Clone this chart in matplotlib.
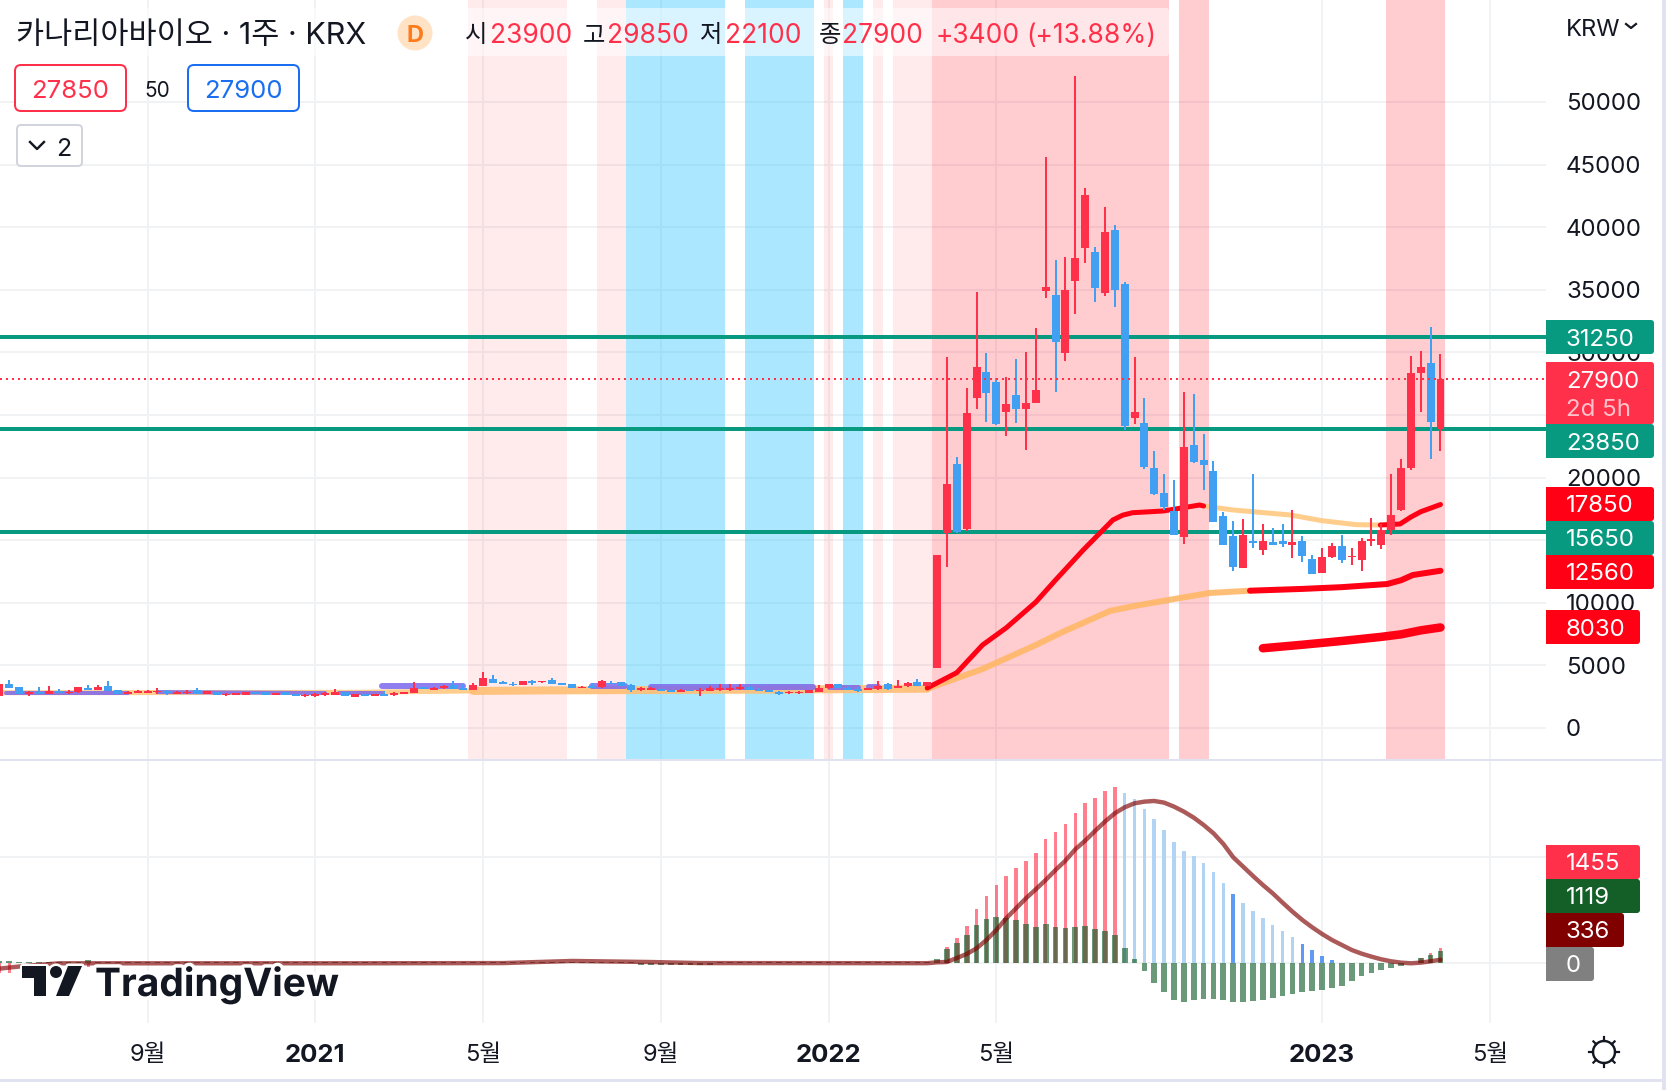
#!/usr/bin/env python3

import numpy as np
import matplotlib
matplotlib.use("Agg")
import matplotlib.pyplot as plt
import matplotlib.patheffects as pe
from matplotlib.patches import Circle, FancyBboxPatch, Polygon, Rectangle

plt.rcParams['font.family'] = ['Inter', 'Noto Sans CJK KR', 'DejaVu Sans']

# Weekly candles, week 0 is the listing jump week
weeks = list(range(-96, 51))

opens = [
    2553, 3484, 3244, 2712, 2872, 2712, 2925, 2766, 2872, 3218,
    3032, 3324, 3005, 2712, 2792, 2819, 2845, 2925, 2739, 2792,
    3058, 2712, 2872, 2606, 2659, 2633, 2899, 2872, 2633, 2845,
    2739, 2526, 2553, 2633, 2633, 2872, 2446, 2739, 2553, 2739,
    2633, 2712, 2819, 3271, 3058, 3165, 3457, 3191, 3005, 3377,
    3936,
    3670, 3537, 3431, 3750, 3670, 3830, 3564, 3484, 3191, 3324,
    3244, 3617, 3697, 3431, 3032, 3058, 3111, 3032, 2872, 3058,
    2952, 2978, 3032, 3032, 3111, 3244, 3058, 3005, 2872, 2766,
    2766, 2819, 2872, 3191, 3537, 3191, 3085, 3032, 3111, 3484,
    3218, 3351, 3697, 3324,
    4792,
    15580, 21120, 15930, 26380, 28460, 27660, 25270, 26620, 25500, 25980,
    34920, 34600, 29970, 35720, 38350, 38030, 34760, 39790, 35480, 24790,
    24390, 20800, 18800, 17370, 15290, 22630, 21410, 20530, 16940, 15340,
    12780, 14910, 14220, 14860, 14940, 14620, 14940, 13500, 12380, 13660,
    14540, 13660, 13420, 14940, 14620, 15820, 17410, 20770, 28360, 29150,
    23900,
]
highs = [
    3484, 3803, 3244, 2952, 3244, 3324, 3085, 3005, 3244, 3404,
    3404, 3723, 3005, 2952, 3005, 3005, 3165, 3005, 2978, 3005,
    3165, 2925, 2872, 2792, 2819, 2845, 2899, 2872, 2792, 2845,
    2739, 2739, 2766, 2899, 3085, 2872, 2686, 2739, 2712, 2925,
    2872, 2899, 3643, 3271, 3298, 3404, 3723, 3537, 3617, 4441,
    4202,
    3723, 3697, 3723, 3830, 3777, 3963, 3564, 3484, 3377, 3564,
    3830, 3723, 3697, 3537, 3244, 3271, 3111, 3032, 3111, 3058,
    3165, 3377, 3510, 3484, 3484, 3351, 3165, 3005, 2925, 2952,
    2952, 3005, 3404, 3537, 3537, 3377, 3298, 3165, 3723, 3564,
    3803, 3670, 3883, 3697,
    13850,
    29650, 21680, 27180, 34840, 29970, 27950, 28060, 29500, 30050, 31970,
    45610, 37400, 37630, 52080, 43140, 38430, 41620, 40190, 35640, 29650,
    26380, 22150, 20320, 19840, 26860, 26700, 23480, 21330, 17260, 16540,
    16700, 20290, 16300, 15980, 16300, 17410, 15340, 13820, 14380, 14780,
    15420, 14380, 15180, 16780, 16300, 20290, 21490, 29710, 30110, 32030,
    29850,
]
lows = [
    2553, 3191, 2712, 2553, 2712, 2712, 2792, 2686, 2766, 3032,
    3032, 2952, 2712, 2712, 2792, 2792, 2739, 2606, 2739, 2686,
    2712, 2712, 2659, 2526, 2659, 2633, 2739, 2633, 2633, 2633,
    2553, 2446, 2446, 2553, 2633, 2553, 2446, 2526, 2553, 2553,
    2526, 2712, 2766, 3111, 3058, 3085, 3111, 3005, 3005, 3324,
    3564,
    3510, 3351, 3431, 3457, 3590, 3510, 3431, 3191, 3191, 3191,
    3165, 3510, 3324, 2845, 2978, 3005, 2978, 2872, 2845, 2978,
    2553, 2925, 2978, 2978, 3032, 3032, 2952, 2872, 2633, 2712,
    2712, 2819, 2872, 3085, 3218, 3032, 2845, 3032, 3058, 3005,
    3165, 3271, 3351, 3324,
    4792,
    12840, 15580, 15720, 25500, 24470, 24230, 23350, 24390, 22230, 25980,
    34360, 26860, 29340, 33090, 37160, 34040, 34520, 33640, 23830, 24310,
    20720, 18640, 17450, 15450, 14730, 21200, 19010, 16480, 14620, 12540,
    12780, 14380, 13820, 14620, 14460, 13580, 13260, 12300, 12380, 13610,
    13180, 13020, 12540, 14540, 14300, 15420, 17340, 20610, 25240, 21490,
    22100,
]
closes = [
    3484, 3191, 2712, 2872, 2712, 2925, 2792, 2899, 3244, 3032,
    3244, 2952, 2712, 2845, 2925, 2952, 2952, 2792, 2872, 2872,
    2712, 2925, 2659, 2712, 2819, 2845, 2739, 2633, 2792, 2633,
    2553, 2633, 2686, 2792, 2872, 2553, 2686, 2526, 2712, 2553,
    2792, 2899, 3218, 3111, 3218, 3324, 3111, 3005, 3404, 3963,
    3564,
    3537, 3431, 3723, 3617, 3777, 3510, 3431, 3191, 3298, 3191,
    3723, 3510, 3324, 3005, 3165, 3191, 2978, 2872, 3032, 2978,
    3058, 3165, 3165, 3165, 3244, 3032, 2952, 2872, 2712, 2899,
    2899, 3005, 3191, 3537, 3218, 3032, 2978, 3165, 3324, 3085,
    3324, 3590, 3351, 3697,
    13850,
    19520, 15640, 25190, 28860, 26780, 24310, 25900, 25500, 25980, 27020,
    35240, 30850, 35000, 37560, 42580, 35160, 39630, 35000, 24150, 25270,
    20880, 18720, 17680, 15450, 22470, 21280, 21010, 16480, 14620, 12860,
    15420, 14750, 14940, 14620, 14700, 14860, 13740, 12300, 13660, 14540,
    13420, 13770, 14940, 15100, 15820, 17020, 20770, 28360, 28830, 24440,
    27900,
]

# Moving averages, sampled where their colour or slope changes
ma_fast_red_w = [-2, 1, 3.6, 6, 9, 11, 13.8, 16.8, 17.8, 18.8, 21.9, 25.6, 26]
ma_fast_red_v = [3195, 4425, 6630, 8000, 10060, 11820, 14217, 16613, 17000, 17196, 17332, 17812, 17732]
ma_fast_fade_w = [26, 29, 34.8, 38, 41.5, 43.9]
ma_fast_fade_v = [17732, 17412, 17013, 16557, 16238, 16214]
ma_fast_end_w = [43.9, 45.9, 47, 48, 50]
ma_fast_end_v = [16214, 16294, 16850, 17276, 17850]

ma_mid_early_w = [-96, -80, -60, -48]
ma_mid_early_v = [2820, 2830, 2850, 2960]
ma_mid_flat_w = [-48, -40, -20, -2]
ma_mid_flat_v = [2960, 3005, 3060, 3138]
ma_mid_fade_w = [-2, 3.6, 9, 11.7, 16.5, 19, 23.6, 26.6, 30.7]
ma_mid_fade_v = [3138, 4712, 6630, 7668, 9345, 9750, 10383, 10783, 10966]
ma_mid_end_w = [30.7, 36, 40, 44.6, 46, 47.2, 50]
ma_mid_end_v = [10966, 11110, 11250, 11500, 11800, 12220, 12560]

ma_slow_w = [32, 36, 40, 44, 46, 48, 50]
ma_slow_v = [6370, 6650, 6950, 7280, 7480, 7800, 8030]

ma_flat_runs = [
    ([-95.3, -83], [2819, 2819], 4),
    ([-80, -63], [2870, 2790], 4),
    ([-61.6, -57.2], [2819, 2819], 4),
    ([-57.2, -49], [3351, 3351], 6),
    ([-36, -32.6], [3351, 3351], 6),
    ([-30, -13.6], [3300, 3300], 6),
    ([-12, -9], [3271, 3271], 5),
    ([-8, -7], [3324, 3324], 5),
]

# Key price levels and the last close
level_values = [31250, 23850, 15650]
last_close = 27900

# Shaded regimes: (first week edge, last week edge)
light_bands = [(-48.5, -38.5), (-35.5, -32.5), (-12.5, -11.5), (-7.5, -6.5), (-5.5, -1.5)]
strong_bands = [(-1.5, 22.5), (23.5, 26.5), (44.5, 50.5)]
blue_bands = [(-32.5, -22.5), (-20.5, -13.5), (-10.5, -8.5)]

# Lower pane
osc_up_w = list(range(0, 18))
osc_up_v = [1531, 2374, 3499, 5092, 6310, 7341, 8185, 8935, 9591, 10340,
            11653, 12309, 13058, 14089, 15026, 15495, 16151, 16526]
osc_down_w = list(range(18, 40))
osc_down_v = [15964, 15401, 14464, 13527, 12496, 11371, 10528, 10059, 9403, 8560, 7529,
              6498, 5654, 4905, 4249, 3593, 3030, 2468, 1812, 1250, 687, 312]
osc_down_strong = [29, 36, 37, 38, 39]
osc_tail_w = [48, 49, 50]
osc_tail_v = [500, 960, 1455]
osc_head_w = [-96, -95, -87]
osc_head_v = [-950, -900, -350]

macd_w = list(range(-96, 51))
macd_v = [
    250, 250, 120, 120, 120, 120, 90, 90, 90, 300,
    90, 90, 90, 90, 90, 90, 90, 90, 90, 90,
    90, 90, 90, 90, 90, 90, 90, 90, 90, 90,
    90, 90, 90, 90, 90, 90, 90, 90, 90, 90,
    90, 90, 90, 90, 90, 90, 90, 90, 90, 90,
    90, 90, 90, 130, 130, 130, 130, 130, 130, 130,
    130, 130, 130, 130, 130, -130, -130, -130, -130, -130,
    -130, -130, -130, 90, 90, 90, 90, 90, 90, 90,
    90, 90, 90, 90, 90, 90, 90, 90, 90, 90,
    90, 90, 90, 90, 90, 406,
    1343, 1906, 2655, 3593, 4155, 4342, 4249, 4061, 3686, 3405,
    3686, 3405, 3311, 3405, 3499, 3218, 3030, 2655, 1437, 406,
    -719, -1843, -2687, -3436, -3624, -3436, -3343, -3343, -3436, -3624,
    -3624, -3530, -3436, -3249, -3062, -2874, -2687, -2593, -2499, -2312,
    -2124, -1656, -1187, -906, -625, -437, -250, 40, 500, 781,
    1119,
]

signal_w = [-96, -94, -92, -90, -60, -45, -38, -30, -25, -2, -1, 0, 1, 2, 3, 4, 5, 6, 7, 8, 9, 10,
            11, 12, 13, 14, 15, 16, 17, 18, 19, 20, 21, 22, 23, 24, 25, 26, 27, 28, 29, 30,
            31, 32, 33, 34, 35, 36, 37, 38, 39, 40, 41, 42, 43, 44, 45, 46, 47, 48, 49, 50]
signal_v = [-500, -300, -150, 0, 0, 20, 220, 120, 20, 10, 94, 125, 500, 875, 1406, 2187, 3124, 4217,
            5155, 6092, 6935, 7810, 8747, 9622, 10684, 11496, 12402, 13277, 14058, 14620, 14995,
            15151, 15214, 15058, 14683, 14214, 13652, 12965, 12184, 11184, 9934, 9060, 8185, 7341,
            6560, 5686, 4842, 4061, 3374, 2749, 2187, 1718, 1250, 906, 625, 375, 187, 62, 0, 62,
            187, 336]

# Axis labels, 15000 and 25000 sit behind the value tags
price_ticks = list(range(0, 55000, 5000))
price_labels = ['' if v in (15000, 25000) else str(v) for v in price_ticks]
time_ticks = [-81, -64, -47, -29, -12, 5, 38, 55]
time_labels = ['9월', '2021', '5월', '9월', '2022', '5월', '2023', '5월']
year_labels = ['2021', '2022', '2023']

UP = '#FF304A'
DOWN = '#42A0F2'
PURE_RED = '#FF0015'
LEVEL = '#089981'
INK = '#131722'
GRID = '#F1F2F4'
EDGE = '#E0E3EF'
MID = 'center_baseline'

W, H = 1666, 1090
PX = 72 / 100  # one pixel in points at dpi 100

fig = plt.figure(figsize=(W / 100, H / 100), dpi=100, facecolor='white')


def pane(left, top, right, bottom):
    return fig.add_axes([left / W, 1 - bottom / H, (right - left) / W, (bottom - top) / H])


xlim = (-947 / 9.87, (1546 - 947) / 9.87)

# Price pane
ax = pane(0, 0, 1546, 759)
ax.set_xlim(xlim)
ax.set_ylim((728 - 759) / 0.01252, 728 / 0.01252)
for s in ax.spines.values():
    s.set_visible(False)
ax.set_axisbelow(True)
ax.grid(True, color=GRID, lw=2 * PX)
ax.set_xticks(time_ticks)
ax.set_yticks(price_ticks)
ax.set_yticklabels(price_labels)
ax.yaxis.tick_right()
ax.tick_params(axis='x', length=0, labelbottom=False)
ax.tick_params(axis='y', length=0, pad=20 * PX, labelsize=17.3, labelcolor=INK)
for lab in ax.get_yticklabels():
    lab.set_ha('left')
    lab.set_va(MID)

for a, b in light_bands:
    ax.axvspan(a, b, color='#FF0015', alpha=0.08, lw=0, zorder=1)
for a, b in strong_bands:
    ax.axvspan(a, b, color='#FF0015', alpha=0.2, lw=0, zorder=1)
for a, b in blue_bands:
    ax.axvspan(a, b, color='#00BCFF', alpha=0.33, lw=0, zorder=1)

for v in level_values:
    ax.axhline(v, color=LEVEL, lw=4 * PX, zorder=2)

round_line = dict(solid_capstyle='round', solid_joinstyle='round')
ax.plot(ma_mid_early_w, ma_mid_early_v, color='#FFC880', lw=5 * PX, alpha=0.9, zorder=3, **round_line)
ax.plot(ma_mid_flat_w, ma_mid_flat_v, color='#FFBE73', lw=8 * PX, alpha=0.9, zorder=3, **round_line)
ax.plot(ma_mid_fade_w, ma_mid_fade_v, color='#FFB766', lw=6 * PX, alpha=0.9, zorder=3, **round_line)
ax.plot(ma_fast_fade_w, ma_fast_fade_v, color='#FFC880', lw=5 * PX, alpha=0.9, zorder=3, **round_line)
for xs, ys, w in ma_flat_runs:
    ax.plot(xs, ys, color='#7B68EE', lw=w * PX, alpha=0.85, zorder=3, **round_line)
ax.plot(ma_fast_red_w, ma_fast_red_v, color=PURE_RED, lw=5 * PX, zorder=4, **round_line)
ax.plot(ma_fast_end_w, ma_fast_end_v, color=PURE_RED, lw=5 * PX, zorder=4, **round_line)
ax.plot(ma_mid_end_w, ma_mid_end_v, color=PURE_RED, lw=6 * PX, zorder=4, **round_line)
ax.plot(ma_slow_w, ma_slow_v, color=PURE_RED, lw=8.5 * PX, zorder=4, **round_line)

# Candles, red for a weekly gain
colors = [UP if c >= o else DOWN for o, c in zip(opens, closes)]
ax.vlines(weeks, lows, highs, colors=colors, lw=2 * PX, zorder=5)
bottoms = np.minimum(opens, closes)
heights = np.abs(np.array(closes) - np.array(opens))
ax.bar(weeks, heights, bottom=bottoms, width=0.81, color=colors, lw=0, zorder=6)

ax.axhline(last_close, color=UP, lw=2 * PX, ls=(0, (1, 2)), zorder=7)

# Oscillator pane
ind = pane(0, 760, 1546, 1023)
ind.set_xlim(xlim)
ind.set_ylim((963.3 - 1023) / 0.01067, (963.3 - 760) / 0.01067)
for s in ind.spines.values():
    s.set_visible(False)
ind.set_axisbelow(True)
ind.grid(True, color=GRID, lw=2 * PX)
ind.set_yticks([0, 10000])
ind.set_xticks(time_ticks)
ind.set_xticklabels(time_labels)
ind.tick_params(axis='y', length=0, labelleft=False)
ind.tick_params(axis='x', length=0, pad=21 * PX, labelsize=17, labelcolor=INK)
for lab in ind.get_xticklabels():
    if lab.get_text() in year_labels:
        lab.set_fontweight('bold')
        lab.set_fontsize(18.5)

ind.bar(osc_up_w, osc_up_v, width=0.36, color=UP, alpha=0.62, lw=0, zorder=2)
ind.bar(osc_tail_w, osc_tail_v, width=0.36, color=UP, alpha=0.62, lw=0, zorder=2)
ind.bar(osc_head_w, osc_head_v, width=0.36, color=UP, alpha=0.62, lw=0, zorder=2)
down_colors = ['#5F9BF5' if w in osc_down_strong else '#B1D4F5' for w in osc_down_w]
ind.bar(osc_down_w, osc_down_v, width=0.36, color=down_colors, lw=0, zorder=2)
ind.bar(macd_w, macd_v, width=0.58, color='#0E5D27', alpha=0.62, lw=0, zorder=3)
ind.plot(signal_w, signal_v, color='#7F0000', lw=4.4 * PX, alpha=0.65, zorder=4, **round_line)

# Chrome drawn in pixel coordinates on top of both panes
ui = fig.add_axes([0, 0, 1, 1])
ui.set_xlim(0, W)
ui.set_ylim(H, 0)
ui.axis('off')
ui.patch.set_alpha(0)

ui.add_patch(Rectangle((0, 759), 1662, 2, color=EDGE, lw=0))
ui.add_patch(Rectangle((0, 1079), W, 3, color=EDGE, lw=0))
ui.add_patch(Rectangle((1662, 0), 4, H, color=EDGE, lw=0))


def tag(y0, y1, right, color, text, size=17.3, tcolor='white'):
    ui.add_patch(FancyBboxPatch((1549, y0), right - 1549, y1 - y0, fc=color, ec='none',
                                boxstyle='round,pad=0,rounding_size=3', zorder=5))
    ui.add_patch(Rectangle((1546, y0), 10, y1 - y0, fc=color, ec='none', zorder=5))
    ui.text(1566, (y0 + y1) / 2, text, color=tcolor, fontsize=size, ha='left', va=MID, zorder=6)


tag(320, 354, 1654, LEVEL, '31250')
ui.add_patch(FancyBboxPatch((1549, 362), 105, 62, fc=UP, ec='none',
                            boxstyle='round,pad=0,rounding_size=3', zorder=5))
ui.add_patch(Rectangle((1546, 362), 10, 62, fc=UP, ec='none', zorder=5))
ui.text(1566, 379, str(last_close), color='white', fontsize=17.3, ha='left', va=MID, zorder=6)
ui.text(1566, 407, '2d 5h', color='#FFC2CA', fontsize=17.3, ha='left', va=MID, zorder=6)
tag(424, 458, 1654, LEVEL, '23850')
tag(487, 521, 1654, PURE_RED, '17850')
tag(521, 555, 1654, LEVEL, '15650')
tag(555, 589, 1654, PURE_RED, '12560')
tag(610, 644, 1640, PURE_RED, '8030')

tag(845, 879, 1640, UP, '1455')
tag(879, 913, 1640, '#145F28', '1119')
tag(913, 947, 1624, '#800000', '336')
tag(947, 981, 1594, '#808080', '0')

# Header strip
ui.add_patch(FancyBboxPatch((8, 8), 1161, 48, fc='white', ec='none', alpha=0.55,
                            boxstyle='round,pad=0,rounding_size=3', zorder=2))
ui.text(16, 33, '카나리아바이오 · 1주 · KRX', color=INK, fontsize=22, va=MID, zorder=6)
ui.add_patch(Circle((415, 33), 17.5, fc='#FFE3C4', ec='none', zorder=5))
ui.text(415, 33, 'D', color='#FF7A1A', fontsize=17, fontweight='bold', ha='center', va=MID, zorder=6)

ohlc_names = ['시', '고', '저', '종']
ohlc_values = ['23900', '29850', '22100', '27900']
name_x = [465, 583, 700, 819]
value_x = [490, 607, 725, 842]
for nm, val, nx, vx in zip(ohlc_names, ohlc_values, name_x, value_x):
    ui.text(nx, 33, nm, color=INK, fontsize=17.5, va=MID, zorder=6)
    ui.text(vx, 33, val, color=UP, fontsize=19, va=MID, zorder=6)
ui.text(936, 33, '+3400', color=UP, fontsize=19, va=MID, zorder=6)
ui.text(1026, 33, '(+13.88%)', color=UP, fontsize=19, va=MID, zorder=6)

for x0, w, col, txt in [(15, 111, UP, '27850'), (188, 111, '#1A6FF0', '27900')]:
    ui.add_patch(FancyBboxPatch((x0, 65), w, 46, fc='white', ec=col, lw=2 * PX,
                                boxstyle='round,pad=0,rounding_size=6', zorder=5))
    ui.text(x0 + w / 2, 89, txt, color=col, fontsize=18.5, ha='center', va=MID, zorder=6)
ui.text(157, 89, '50', color=INK, fontsize=15, ha='center', va=MID, zorder=6)

ui.add_patch(FancyBboxPatch((17, 125), 65, 41, fc='white', ec='#D1D4DC', lw=2 * PX,
                            boxstyle='round,pad=0,rounding_size=4', zorder=5))
ui.plot([30, 37, 44], [142, 149, 142], color=INK, lw=2.4 * PX, zorder=6)
ui.text(64, 147, '2', color=INK, fontsize=18, ha='center', va=MID, zorder=6)

ui.text(1566, 28, 'KRW', color=INK, fontsize=17, va=MID, zorder=6)
ui.plot([1626, 1631, 1636], [24, 28, 24], color=INK, lw=2.2 * PX, zorder=6)

# Settings gear
ui.add_patch(Circle((1604, 1052), 11, fc='white', ec=INK, lw=2.4 * PX, zorder=6))
for ang in np.deg2rad(np.arange(0, 360, 45)):
    ui.plot([1604 + 11 * np.cos(ang), 1604 + 15 * np.cos(ang)],
            [1052 + 11 * np.sin(ang), 1052 + 15 * np.sin(ang)], color=INK, lw=2.2 * PX, zorder=6)

# Logo
halo = [pe.withStroke(linewidth=7 * PX, foreground='white')]
mark = [
    [(22, 966), (46, 966), (46, 996), (34, 996), (34, 978), (22, 978)],
    [(68, 966), (82, 966), (69, 996), (56, 996)],
]
for pts in mark:
    ui.add_patch(Polygon(pts, closed=True, fc=INK, ec='white', lw=5 * PX, joinstyle='round', zorder=7))
ui.add_patch(Circle((56, 972), 6, fc=INK, ec='white', lw=5 * PX, zorder=7))
for pts in mark:
    ui.add_patch(Polygon(pts, closed=True, fc=INK, ec='none', zorder=8))
ui.add_patch(Circle((56, 972), 6, fc=INK, ec='none', zorder=8))
ui.text(95, 996, 'TradingView', color=INK, fontsize=28, fontweight='bold', va='baseline',
        zorder=8, path_effects=halo)

fig.savefig('out.png', dpi=100, facecolor='white')
